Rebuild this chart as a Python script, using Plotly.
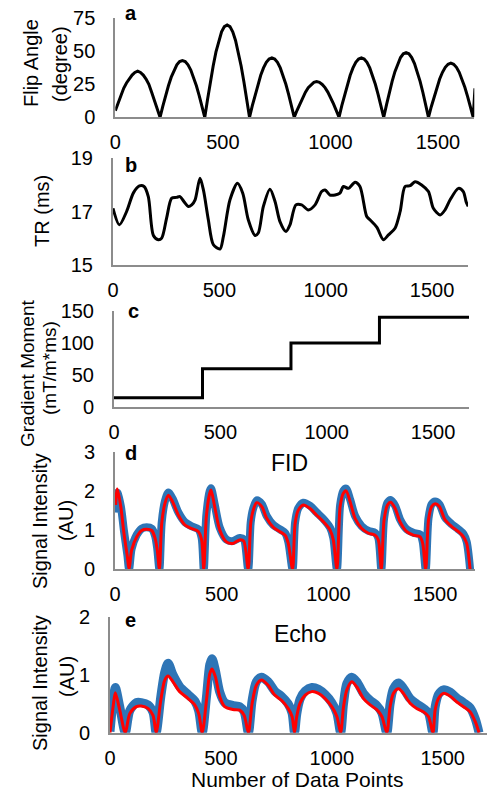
import plotly.graph_objects as go

W, H = 493, 792
FONT = "Liberation Sans, Arial, Helvetica, sans-serif"

# ---------------- data ----------------
tick_x = [0, 500, 1000, 1500]

# (a) flip angle, sampled every 13 data points
fa_x = [i * 13 for i in range(129)] + [1672]
fa_y = [5, 11, 17, 22, 26, 29, 32, 34, 35, 34, 32, 29, 25, 19, 13, 7,
        0, 8.4, 16.5, 23.9, 30.4, 35.8, 39.7, 42.2, 43, 42.2, 39.7, 35.8, 30.4, 23.9, 16.5, 8.4,
        0, 13.7, 26.8, 38.9, 49.5, 58.2, 64.7, 68.7, 70, 68.7, 64.7, 58.2, 49.5, 38.9, 26.8, 13.7,
        0, 8.8, 17.2, 25, 31.8, 37.4, 41.6, 44.1, 45, 44.1, 41.6, 37.4, 31.8, 25, 17.2, 8.8,
        0, 5.3, 10.3, 15, 19.1, 22.5, 24.9, 26.5, 27, 26.5, 24.9, 22.5, 19.1, 15, 10.3, 5.3,
        0, 8.8, 17.2, 25, 31.8, 37.4, 41.6, 44.1, 45, 44.1, 41.6, 37.4, 31.8, 25, 17.2, 8.8,
        0, 9.6, 18.8, 27.2, 34.6, 40.7, 45.3, 48.1, 49, 48.1, 45.3, 40.7, 34.6, 27.2, 18.8, 9.6,
        0, 8, 15.7, 22.8, 29, 34.1, 37.9, 40.2, 41, 40.2, 37.9, 34.1, 29, 22.8, 15.7, 8,
        0, 22]

# (b) TR
tr_x = [0, 30, 64, 96, 124, 146, 166, 190, 213, 229,
        252, 276, 299, 315, 334, 354, 370, 386, 409, 425,
        448, 472, 503, 519, 550, 585, 610, 636, 668, 683,
        707, 738, 762, 785, 813, 832, 860, 887, 918, 950,
        981, 997, 1020, 1044, 1067, 1083, 1107, 1138, 1161, 1193,
        1208, 1240, 1271, 1295, 1326, 1350, 1373, 1397, 1420, 1451,
        1483, 1506, 1538, 1561, 1585, 1624, 1647, 1660, 1670]
tr_y = [17.12, 16.5, 17.0, 17.7, 17.96, 17.94, 17.56, 16.1, 15.94, 16.0,
        16.75, 17.5, 17.53, 17.56, 17.37, 17.19, 17.25, 17.44, 18.25, 17.81,
        16.7, 15.75, 15.59, 16.06, 17.44, 18.06, 17.69, 16.69, 16.1, 16.19,
        17.19, 17.84, 17.37, 16.62, 16.25, 16.5, 17.25, 17.25, 17.06, 17.25,
        17.75, 17.81, 17.62, 17.62, 17.69, 17.94, 17.87, 18.1, 17.94, 16.81,
        16.69, 16.41, 15.94, 16.12, 16.37, 17.0, 17.94, 17.97, 18.12, 18.0,
        17.75, 17.12, 16.87, 17.06, 17.44, 17.87, 17.75, 17.37, 17.19]

# (c) gradient moment
gm_x = [0, 416, 832, 1248, 1669]
gm_y = [15, 60, 100, 140, 140]

# (d) FID
fid_x = [3, 11, 27, 42, 58, 66, 78, 102, 125, 148, 172, 188, 198, 208,
         219, 234, 250, 270, 297, 328, 359, 391, 406, 416,
         428, 444, 450, 467, 491, 522, 553, 584, 603, 624,
         636, 648, 664, 688, 711, 742, 773, 797, 812, 832,
         844, 859, 883, 914, 945, 977, 1008, 1023, 1040,
         1055, 1070, 1083, 1102, 1125, 1156, 1188, 1219, 1234, 1248,
         1261, 1277, 1292, 1313, 1336, 1367, 1398, 1430, 1442, 1456,
         1469, 1484, 1500, 1520, 1547, 1578, 1609, 1633, 1648, 1664]
fid_fit = [1.64, 2.05, 1.6, 0.92, 0.32, 0, 0.49, 0.83, 0.99, 1.02, 0.99, 0.79, 0.49, 0,
           1.17, 1.68, 1.89, 1.72, 1.38, 1.13, 1.04, 0.96, 0.75, 0,
           1.34, 1.94, 2.02, 1.6, 1.0, 0.7, 0.66, 0.75, 0.72, 0,
           1.17, 1.51, 1.70, 1.6, 1.3, 1.07, 0.96, 0.87, 0.66, 0,
           1.17, 1.51, 1.64, 1.55, 1.38, 1.21, 1.0, 0.75, 0,
           1.6, 1.94, 2.0, 1.72, 1.3, 1.04, 0.92, 0.87, 0.75, 0,
           1.26, 1.64, 1.71, 1.55, 1.21, 0.96, 0.87, 0.83, 0.66, 0,
           1.26, 1.6, 1.67, 1.6, 1.26, 1.09, 0.96, 0.83, 0.66, 0]
fid_meas = [1.45, 1.95, 1.62, 0.98, 0.36, 0, 0.52, 0.88, 1.04, 1.07, 1.04, 0.85, 0.52, 0,
            1.2, 1.74, 1.96, 1.8, 1.45, 1.2, 1.1, 1.02, 0.8, 0,
            1.38, 2.0, 2.07, 1.66, 1.06, 0.76, 0.72, 0.8, 0.77, 0,
            1.2, 1.56, 1.76, 1.66, 1.36, 1.13, 1.02, 0.93, 0.7, 0,
            1.2, 1.56, 1.7, 1.62, 1.45, 1.28, 1.06, 0.8, 0,
            1.64, 2.0, 2.06, 1.78, 1.36, 1.1, 0.98, 0.93, 0.8, 0,
            1.3, 1.7, 1.77, 1.62, 1.27, 1.02, 0.93, 0.89, 0.7, 0,
            1.3, 1.66, 1.73, 1.66, 1.32, 1.15, 1.02, 0.9, 0.7, 0]

# (e) Echo
echo_x = [0, 14, 24, 44, 69, 89, 119, 141, 171, 194, 208,
          229, 247, 262, 284, 314, 352, 382, 400, 416,
          435, 450, 460, 475, 495, 517, 555, 585, 605, 624,
          641, 660, 683, 713, 743, 773, 803, 821, 832,
          842, 857, 880, 910, 940, 970, 1000, 1023, 1040,
          1053, 1068, 1090, 1113, 1143, 1173, 1203, 1226, 1248,
          1263, 1278, 1301, 1323, 1353, 1383, 1414, 1436, 1456,
          1466, 1481, 1504, 1534, 1564, 1594, 1624, 1647, 1664]
echo_fit = [0, 0.45, 0.69, 0.39, 0, 0.33, 0.45, 0.46, 0.42, 0.30, 0,
            0.56, 0.91, 0.98, 0.88, 0.71, 0.59, 0.48, 0.33, 0,
            0.56, 1.02, 1.10, 0.97, 0.62, 0.45, 0.40, 0.39, 0.30, 0,
            0.51, 0.82, 0.91, 0.82, 0.65, 0.56, 0.42, 0.28, 0,
            0.28, 0.51, 0.65, 0.71, 0.68, 0.59, 0.45, 0.28, 0,
            0.45, 0.74, 0.88, 0.79, 0.59, 0.48, 0.40, 0.28, 0,
            0.45, 0.68, 0.76, 0.68, 0.51, 0.42, 0.36, 0.28, 0,
            0.39, 0.59, 0.68, 0.63, 0.53, 0.45, 0.36, 0.19, 0]
echo_meas = [0.02, 0.55, 0.78, 0.45, 0, 0.38, 0.52, 0.52, 0.48, 0.35, 0,
             0.62, 1.05, 1.2, 1.0, 0.8, 0.66, 0.55, 0.38, 0,
             0.62, 1.18, 1.28, 1.08, 0.7, 0.52, 0.47, 0.45, 0.36, 0,
             0.56, 0.88, 0.96, 0.88, 0.72, 0.63, 0.5, 0.34, 0,
             0.32, 0.58, 0.72, 0.78, 0.75, 0.66, 0.52, 0.34, 0,
             0.5, 0.85, 0.96, 0.88, 0.68, 0.56, 0.47, 0.34, 0,
             0.5, 0.76, 0.86, 0.77, 0.59, 0.5, 0.42, 0.34, 0,
             0.44, 0.66, 0.74, 0.7, 0.6, 0.52, 0.43, 0.24, 0]

# ---------------- layout helpers (page pixel -> paper) ----------------
def px_x(p):
    return p / W

def px_y(p):
    return 1 - p / H

panels = [
    dict(l=115.3, r=474.3, b=117.3, t=18.3, xmax=1669, yr=[0, 75], yt=[0, 25, 50, 75]),
    dict(l=113, r=468, b=264.7, t=158.3, xmax=1669, yr=[15, 19], yt=[15, 17, 19]),
    dict(l=114, r=469, b=407.3, t=310.7, xmax=1669, yr=[0, 150], yt=[0, 50, 100, 150]),
    dict(l=115, r=475, b=569.3, t=451.7, xmax=1687, yr=[0, 3], yt=[0, 1, 2, 3]),
    dict(l=110, r=487, b=732.7, t=617, xmax=1700, yr=[0, 2], yt=[0, 1, 2]),
]

fig = go.Figure()
BLACK_W = 3
BLUE = "#2E75B6"
RED = "#FF0000"

fig.add_trace(go.Scatter(x=fa_x, y=fa_y, mode="lines", line=dict(color="black", width=BLACK_W),
                         xaxis="x", yaxis="y"))
fig.add_trace(go.Scatter(x=tr_x, y=tr_y, mode="lines",
                         line=dict(color="black", width=BLACK_W, shape="spline", smoothing=0.8),
                         xaxis="x2", yaxis="y2"))
fig.add_trace(go.Scatter(x=gm_x, y=gm_y, mode="lines", line=dict(color="black", width=BLACK_W, shape="hv"),
                         xaxis="x3", yaxis="y3"))
fig.add_trace(go.Scatter(x=fid_x, y=fid_meas, mode="lines",
                         line=dict(color=BLUE, width=8, shape="spline", smoothing=0.8),
                         xaxis="x4", yaxis="y4"))
fig.add_trace(go.Scatter(x=fid_x, y=fid_fit, mode="lines",
                         line=dict(color=RED, width=3, shape="spline", smoothing=0.8),
                         xaxis="x4", yaxis="y4"))
fig.add_trace(go.Scatter(x=echo_x, y=echo_meas, mode="lines",
                         line=dict(color=BLUE, width=9, shape="spline", smoothing=0.8),
                         xaxis="x5", yaxis="y5"))
fig.add_trace(go.Scatter(x=echo_x, y=echo_fit, mode="lines",
                         line=dict(color=RED, width=3, shape="spline", smoothing=0.8),
                         xaxis="x5", yaxis="y5"))

axis_color = "#8C8C8C"
tickfont = dict(family=FONT, size=20, color="black")
layout = dict(width=W, height=H, margin=dict(l=0, r=0, t=0, b=0, autoexpand=False),
              template="none",
              paper_bgcolor="white", plot_bgcolor="white", showlegend=False)
for i, p in enumerate(panels):
    s = "" if i == 0 else str(i + 1)
    layout["xaxis" + s] = dict(domain=[px_x(p["l"]), px_x(p["r"])], range=[0, p["xmax"]],
                               anchor="y" + s, tickvals=tick_x, showline=True, linecolor=axis_color,
                               linewidth=2, showgrid=False, zeroline=False, ticks="outside",
                               ticklen=6, tickcolor="rgba(0,0,0,0)", tickfont=tickfont,
                               automargin=False, ticklabeloverflow="allow")
    layout["yaxis" + s] = dict(domain=[px_y(p["b"]), px_y(p["t"])], range=p["yr"],
                               anchor="x" + s, tickvals=p["yt"], showline=True, linecolor=axis_color,
                               linewidth=2, showgrid=False, zeroline=False, ticks="outside",
                               ticklen=14, tickcolor="rgba(0,0,0,0)", tickfont=tickfont,
                               automargin=False, ticklabeloverflow="allow")
fig.update_layout(**layout)

def ann(text, x, y, size=20, angle=0, bold=False):
    fig.add_annotation(text=("<b>%s</b>" % text) if bold else text, x=px_x(x), y=px_y(y),
                       xref="paper", yref="paper", showarrow=False, textangle=angle,
                       xanchor="center", yanchor="middle",
                       font=dict(family=FONT, size=size, color="black"))

# panel letters
for lbl, (x, y) in zip("abcde", [(131, 13), (131, 165), (133, 311), (131, 453), (130, 620)]):
    ann(lbl, x, y, size=20, bold=True)

# titles
ann("FID", 289, 463, size=23)
ann("Echo", 300, 634, size=23)
ann("Number of Data Points", 297, 779, size=21)

# y axis titles
ann("Flip Angle", 31, 63, size=20, angle=-90)
ann("(degree)", 60, 64, size=20, angle=-90)
ann("TR (ms)", 42, 211, size=20, angle=-90)
ann("Gradient Moment", 27, 373, size=19, angle=-90)
ann("(mT/m*ms)", 49, 368, size=19, angle=-90)
ann("Signal Intensity", 40, 521, size=20, angle=-90)
ann("(AU)", 66, 521, size=20, angle=-90)
ann("Signal Intensity", 40, 683, size=20, angle=-90)
ann("(AU)", 67, 677, size=20, angle=-90)

# remove the page's default body margin so the figure sits at the window origin
fig.write_html("out.html", config={"displayModeBar": False},
               post_script="document.body.style.margin='0px';")
